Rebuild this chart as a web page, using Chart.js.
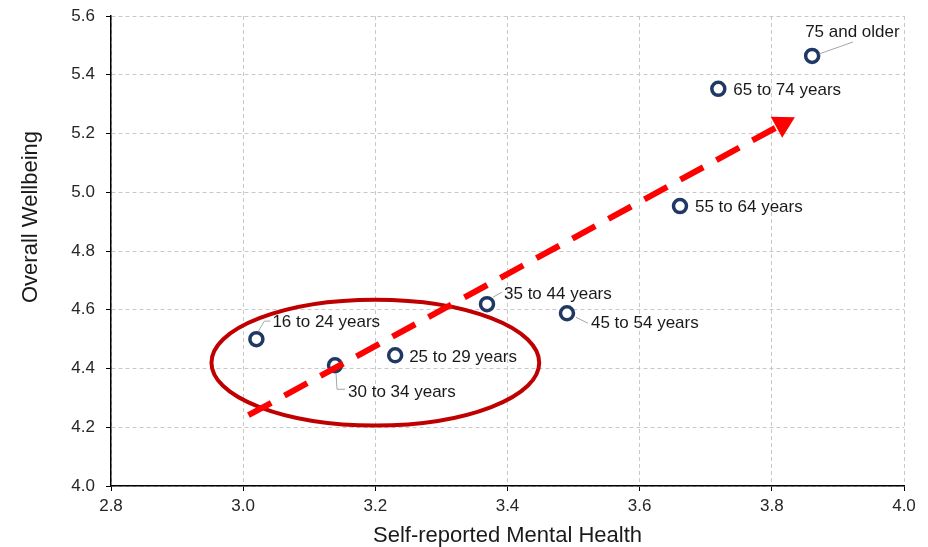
<!DOCTYPE html>
<html>
<head>
<meta charset="utf-8">
<title>Wellbeing by age</title>
<script src="https://cdn.jsdelivr.net/npm/chart.js@4"></script>
<style>
    body { margin: 0; background: #ffffff; }
    #chart { display: block; }
</style>
</head>
<body>
<canvas id="chart" width="928" height="547"></canvas>
<script>
// Data
const ageGroups = ["16 to 24 years", "25 to 29 years", "30 to 34 years", "35 to 44 years",
    "45 to 54 years", "55 to 64 years", "65 to 74 years", "75 and older"];
const mentalHealth = [3.02, 3.23, 3.139, 3.369, 3.49, 3.661, 3.719, 3.861];
const wellbeing = [4.50, 4.445, 4.411, 4.619, 4.588, 4.953, 5.352, 5.464];

// Trend arrow (start -> base of arrow head) and the highlight ellipse, in data units
const trendX = [3.008, 3.807];
const trendY = [4.241, 5.221];
const ellipseCenter = [3.2, 4.42];
const ellipseRadius = [0.248, 0.214];

// Axis ticks
const xTicks = [2.8, 3.0, 3.2, 3.4, 3.6, 3.8, 4.0];
const yTicks = [4.0, 4.2, 4.4, 4.6, 4.8, 5.0, 5.2, 5.4, 5.6];

// Label placement relative to each point (pixels) and leader lines
const labelOffsets = [[16, -17], [14, 2], [13, 27], [17, -10], [24, 10], [15, 1], [15, 1], [-7, -24]];
const leaders = [
    [[2, -8], [8, -18], [14, -18]],
    null,
    [[1, 8], [2, 24], [10, 24]],
    [[6, -7], [15, -12]],
    [[9, 4], [21, 10]],
    null,
    null,
    [[7, -2], [41, -14]],
];

const FONT = "'Liberation Sans', Arial, sans-serif";

document.addEventListener("DOMContentLoaded", function () {
    setupChart();
});

// Ellipse around the younger groups, drawn under the datasets
const ellipsePlugin = {
    id: "ellipse",
    beforeDatasetsDraw(chart) {
        const { ctx, scales: { x, y } } = chart;
        const cx = x.getPixelForValue(ellipseCenter[0]);
        const cy = y.getPixelForValue(ellipseCenter[1]);
        const rx = Math.abs(x.getPixelForValue(ellipseCenter[0] + ellipseRadius[0]) - cx);
        const ry = Math.abs(y.getPixelForValue(ellipseCenter[1] + ellipseRadius[1]) - cy);
        ctx.save();
        ctx.beginPath();
        ctx.ellipse(cx, cy, rx, ry, 0, 0, Math.PI * 2);
        ctx.strokeStyle = "#c00000";
        ctx.lineWidth = 4;
        ctx.stroke();
        ctx.restore();
    },
};

// Arrow head, point labels and axis titles
const annotatePlugin = {
    id: "annotate",
    afterDatasetsDraw(chart) {
        const { ctx, chartArea } = chart;
        ctx.save();

        // arrow head
        const arrow = chart.getDatasetMeta(0).data;
        const p0 = arrow[0], p1 = arrow[1];
        const ang = Math.atan2(p1.y - p0.y, p1.x - p0.x);
        const len = 21, half = 12;
        const tipX = p1.x + Math.cos(ang) * len;
        const tipY = p1.y + Math.sin(ang) * len;
        ctx.beginPath();
        ctx.moveTo(tipX, tipY);
        ctx.lineTo(p1.x + Math.cos(ang + Math.PI / 2) * half, p1.y + Math.sin(ang + Math.PI / 2) * half);
        ctx.lineTo(p1.x + Math.cos(ang - Math.PI / 2) * half, p1.y + Math.sin(ang - Math.PI / 2) * half);
        ctx.closePath();
        ctx.fillStyle = "#ff0000";
        ctx.fill();

        // point labels with leader lines
        const pts = chart.getDatasetMeta(1).data;
        ctx.font = "17px " + FONT;
        ctx.textAlign = "left";
        ctx.textBaseline = "middle";
        pts.forEach((pt, i) => {
            const lead = leaders[i];
            if (lead) {
                ctx.beginPath();
                ctx.moveTo(pt.x + lead[0][0], pt.y + lead[0][1]);
                for (let k = 1; k < lead.length; k++) {
                    ctx.lineTo(pt.x + lead[k][0], pt.y + lead[k][1]);
                }
                ctx.strokeStyle = "#a6a6a6";
                ctx.lineWidth = 1;
                ctx.stroke();
            }
            ctx.fillStyle = "#1a1a1a";
            ctx.fillText(ageGroups[i], pt.x + labelOffsets[i][0], pt.y + labelOffsets[i][1]);
        });

        // axis titles
        ctx.fillStyle = "#1a1a1a";
        ctx.font = "22px " + FONT;
        ctx.textAlign = "center";
        ctx.textBaseline = "alphabetic";
        ctx.fillText("Self-reported Mental Health", (chartArea.left + chartArea.right) / 2, 542);
        ctx.translate(37, 217);
        ctx.rotate(-Math.PI / 2);
        ctx.fillText("Overall Wellbeing", 0, 0);
        ctx.restore();
    },
};

// Chart.js Setup
function setupChart() {
    const ctx = document.getElementById("chart").getContext("2d");

    new Chart(ctx, {
        type: "scatter",
        data: {
            datasets: [
                {
                    label: "Trend",
                    data: trendX.map((v, i) => ({ x: v, y: trendY[i] })),
                    showLine: true,
                    borderColor: "#ff0000",
                    borderWidth: 6,
                    borderDash: [26, 15],
                    pointRadius: 0,
                    order: 0,
                },
                {
                    label: "Age groups",
                    data: mentalHealth.map((v, i) => ({ x: v, y: wellbeing[i] })),
                    pointRadius: 6.5,
                    pointBorderWidth: 3.5,
                    pointBackgroundColor: "#ffffff",
                    pointBorderColor: "#1f3864",
                    order: 1,
                },
            ],
        },
        options: {
            responsive: false,
            animation: false,
            events: [],
            layout: {
                padding: { top: 16, right: 24, left: 0, bottom: 0 },
            },
            plugins: {
                legend: { display: false },
                tooltip: { enabled: false },
            },
            scales: {
                x: {
                    type: "linear",
                    min: xTicks[0],
                    max: xTicks[xTicks.length - 1],
                    afterBuildTicks: (scale) => {
                        scale.ticks = xTicks.map(v => ({ value: v }));
                    },
                    afterFit: (scale) => {
                        scale.height = 61;
                        scale.paddingLeft = 0;
                        scale.paddingRight = 0;
                    },
                    ticks: {
                        font: { family: FONT, size: 17 },
                        color: "#262626",
                        padding: 5,
                        maxRotation: 0,
                        callback: (v) => Number(v).toFixed(1),
                    },
                    grid: {
                        color: "#c8c8c8",
                        lineWidth: 1,
                        tickColor: "#000000",
                        tickLength: 5,
                        tickBorderDash: [],
                    },
                    border: {
                        display: true,
                        color: "#000000",
                        width: 1.5,
                        dash: [4, 3],
                    },
                },
                y: {
                    type: "linear",
                    min: yTicks[0],
                    max: yTicks[yTicks.length - 1],
                    afterBuildTicks: (scale) => {
                        scale.ticks = yTicks.map(v => ({ value: v }));
                    },
                    afterFit: (scale) => {
                        scale.width = 111;
                        scale.paddingTop = 0;
                        scale.paddingBottom = 0;
                    },
                    ticks: {
                        font: { family: FONT, size: 17 },
                        color: "#262626",
                        padding: 11,
                        callback: (v) => Number(v).toFixed(1),
                    },
                    grid: {
                        color: "#c8c8c8",
                        lineWidth: 1,
                        tickColor: "#000000",
                        tickLength: 5,
                        tickBorderDash: [],
                    },
                    border: {
                        display: true,
                        color: "#000000",
                        width: 1.5,
                        dash: [4, 3],
                    },
                },
            },
        },
        plugins: [ellipsePlugin, annotatePlugin],
    });
}
</script>
</body>
</html>
